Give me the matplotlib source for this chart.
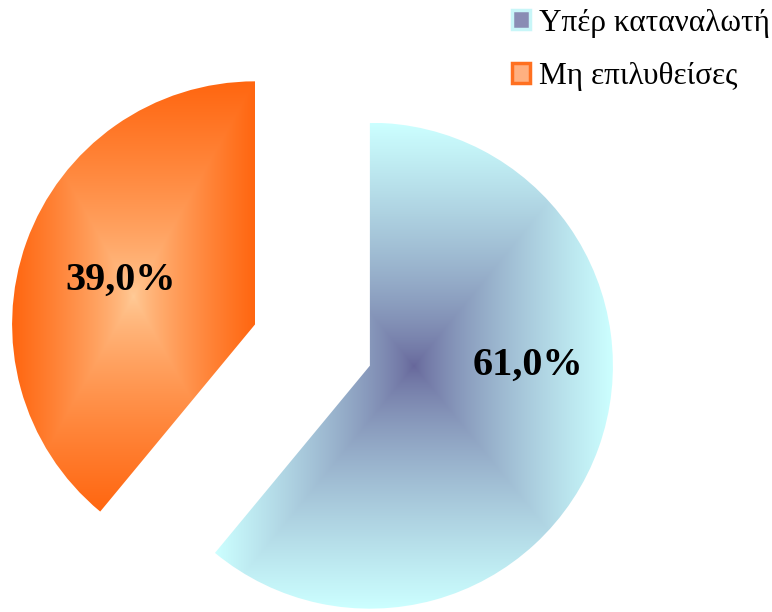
import numpy as np
import matplotlib.pyplot as plt
from matplotlib.patches import Rectangle

plt.rcParams['font.family'] = ['Liberation Serif', 'DejaVu Serif']

labels = ['Υπέρ καταναλωτή', 'Μη επιλυθείσες']
values = [61.0, 39.0]

# gradient colours: (centre, edge)
grad_colors = [('#66669a', '#ccffff'), ('#ffcc99', '#ff6610')]
legend_face = ['#8a8db4', '#ffb080']
legend_edge = ['#c8f6f8', '#ff7020']

fig = plt.figure(figsize=(7.72, 6.12), dpi=100)
ax = fig.add_axes([0, 0, 1, 1])

radius = 243
wedges, _ = ax.pie(values, startangle=90, counterclock=False,
                   radius=radius, center=(312.5, 267), explode=[61, 61],
                   colors=['none', 'none'], frame=True)
ax.set_xlim(0, 772)
ax.set_ylim(0, 612)
ax.set_aspect('equal')
ax.axis('off')


def hexrgb(h):
    h = h.lstrip('#')
    return np.array([int(h[i:i + 2], 16) / 255 for i in (0, 2, 4)])


# rectangular "from centre" gradient clipped to each wedge
for w, (c0, c1) in zip(wedges, grad_colors):
    bb = w.get_path().get_extents()
    xs = np.linspace(-1, 1, 400)
    X, Y = np.meshgrid(xs, xs)
    t = np.clip(np.maximum(np.abs(X), np.abs(Y)), 0, 1) ** 0.75
    rgb = hexrgb(c0) + (hexrgb(c1) - hexrgb(c0)) * t[..., None]
    im = ax.imshow(rgb, extent=(bb.x0, bb.x1, bb.y0, bb.y1),
                   origin='lower', interpolation='bilinear', zorder=2)
    im.set_clip_path(w)

# percentage labels
label_angle = [0, 162]
label_dist = [0.65, 0.58]
for w, v, a, d in zip(wedges, values, label_angle, label_dist):
    cx, cy = w.center
    x = cx + d * radius * np.cos(np.radians(a))
    y = cy + d * radius * np.sin(np.radians(a))
    ax.text(x, y, f'{v:.1f}%'.replace('.', ','), ha='center', va='center',
            fontsize=29, fontweight='bold', color='black', zorder=5)

handles = [Rectangle((0, 0), 1, 1, facecolor=f, edgecolor=e, linewidth=2.5)
           for f, e in zip(legend_face, legend_edge)]
fig.legend(handles, labels, loc='upper left', bbox_to_anchor=(0.663, 0.986),
           frameon=False, fontsize=22.5, handlelength=0.58, handleheight=0.58,
           handletextpad=0.3, labelspacing=0.78, borderpad=0, borderaxespad=0)

fig.savefig('out.png', dpi=100)
